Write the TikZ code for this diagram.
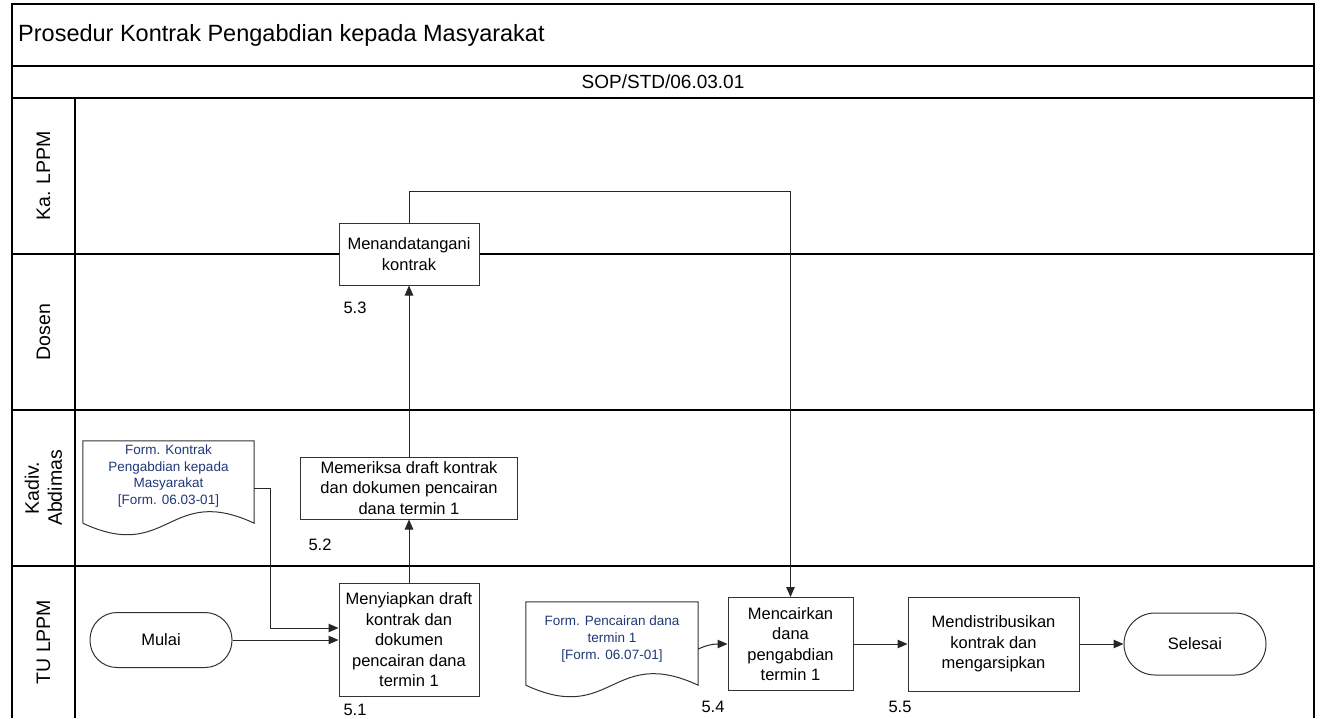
\documentclass[tikz,border=0pt]{standalone}
\usepackage{fontspec}
\setmainfont{Liberation Sans}
\usepackage{tikz}
\usetikzlibrary{positioning, arrows.meta, shapes, calc}
\usepackage{xcolor}
\definecolor{formblue}{RGB}{31,56,120}

\newcommand{\docoutline}[2]{%
  \draw[line width=1pt, draw=black!80] ([yshift=-#2pt]#1.south west) -- (#1.north west) -- (#1.north east) -- ([yshift=-#2pt]#1.south east)
    .. controls ([yshift=-#2pt+40pt]#1.south) and ([yshift=-#2pt-40pt]#1.south) .. ([yshift=-#2pt]#1.south west);}

\begin{document}
\begin{tikzpicture}[x=1pt, y=-1pt,
  lane/.style={line width=1.3pt},
  proc/.style={draw=black!80, line width=1pt, fill=white, align=center, inner sep=2pt, font=\fontsize{16.5}{20.5}\selectfont},
  term/.style={proc, minimum width=142pt},
  docnode/.style={align=center, inner sep=0pt, text=formblue, font=\fontsize{13.5}{16.8}\selectfont},
  flow/.style={line width=1pt, draw=black!85, -{Triangle[length=10pt,width=8.5pt]}},
  numlabel/.style={font=\fontsize{16.5}{20}\selectfont},
  lanelabel/.style={rotate=90, align=center, font=\fontsize{19.5}{23}\selectfont}]
\useasboundingbox (0,0) rectangle (1325,718);

\draw[lane] (12,718) -- (12,4) -- (1314,4) -- (1314,718);
\draw[lane] (12,66) -- (1314,66);
\draw[lane] (12,98) -- (1314,98);
\foreach \y in {254,410,566}
  \draw[lane] (12,\y) -- (1314,\y);
\draw[lane] (75,98) -- (75,718);

\node[anchor=west, inner sep=0pt, font=\fontsize{23.5}{28}\selectfont] (judul) at (18,35) {Prosedur Kontrak Pengabdian kepada Masyarakat};
\node[font=\fontsize{19}{23}\selectfont] (kode) at (663,82) {SOP/STD/06.03.01};

\node[lanelabel] (kalppm) at (43.5,176) {Ka. LPPM};
\node[lanelabel] (dosen) at (43.5,332) {Dosen};
\node[lanelabel] (kadiv) at (43.5,488) {Kadiv.\\Abdimas};
\node[lanelabel] (tulppm) at (43.5,642) {TU LPPM};

\node[term, rounded corners=27pt, minimum height=55pt] (mulai) at (161,640) {Mulai};
\node[proc, minimum width=140pt, minimum height=113pt] (siapkan) at (409,640) {Menyiapkan draft\\kontrak dan\\dokumen\\pencairan dana\\termin 1};
\node[proc, minimum width=217pt, minimum height=62pt] (periksa) at (409,488) {Memeriksa draft kontrak\\dan dokumen pencairan\\dana termin 1};
\node[proc, minimum width=140pt, minimum height=62pt] (tandatangan) at (409,254) {Menandatangani\\kontrak};
\node[proc, minimum width=125pt, minimum height=93pt] (cairkan) at (790.5,644) {Mencairkan\\dana\\pengabdian\\termin 1};
\node[proc, minimum width=171pt, minimum height=94pt] (distribusi) at (993.5,644) {Mendistribusikan\\kontrak dan\\mengarsipkan};
\node[term, rounded corners=31pt, minimum height=62pt] (selesai) at (1195,644) {Selesai};

\node[docnode, minimum width=171pt, minimum height=70pt] (formkontrak) at (168.5,476) {Form. Kontrak\\Pengabdian kepada\\Masyarakat\\{[}Form. 06.03-01]};
\docoutline{formkontrak}{12}
\node[docnode, minimum width=172pt, minimum height=74pt] (formcair) at (612,639) {Form. Pencairan dana\\termin 1\\{[}Form. 06.07-01]};
\docoutline{formcair}{9}

\node[numlabel] (n51) at (355,710) {5.1};
\node[numlabel] (n52) at (320,545) {5.2};
\node[numlabel] (n53) at (355,308) {5.3};
\node[numlabel] (n54) at (713,707) {5.4};
\node[numlabel] (n55) at (900,707) {5.5};

\draw[flow] ([yshift=-12pt]formkontrak.east) -- ++(16,0) |- ([yshift=12pt]siapkan.west);
\draw[flow] (mulai.east) -- (siapkan.west |- mulai.east);
\draw[flow] (siapkan.north) -- (periksa.south);
\draw[flow] (periksa.north) -- (tandatangan.south);
\draw[flow] (tandatangan.north) -- ++(0,-31) -| (cairkan.north);
\draw[flow] ([yshift=-10pt]formcair.east) to[out=25,in=180] (cairkan.west);
\draw[flow] (cairkan.east) -- (distribusi.west);
\draw[flow] (distribusi.east) -- (selesai.west);
\end{tikzpicture}
\end{document}
